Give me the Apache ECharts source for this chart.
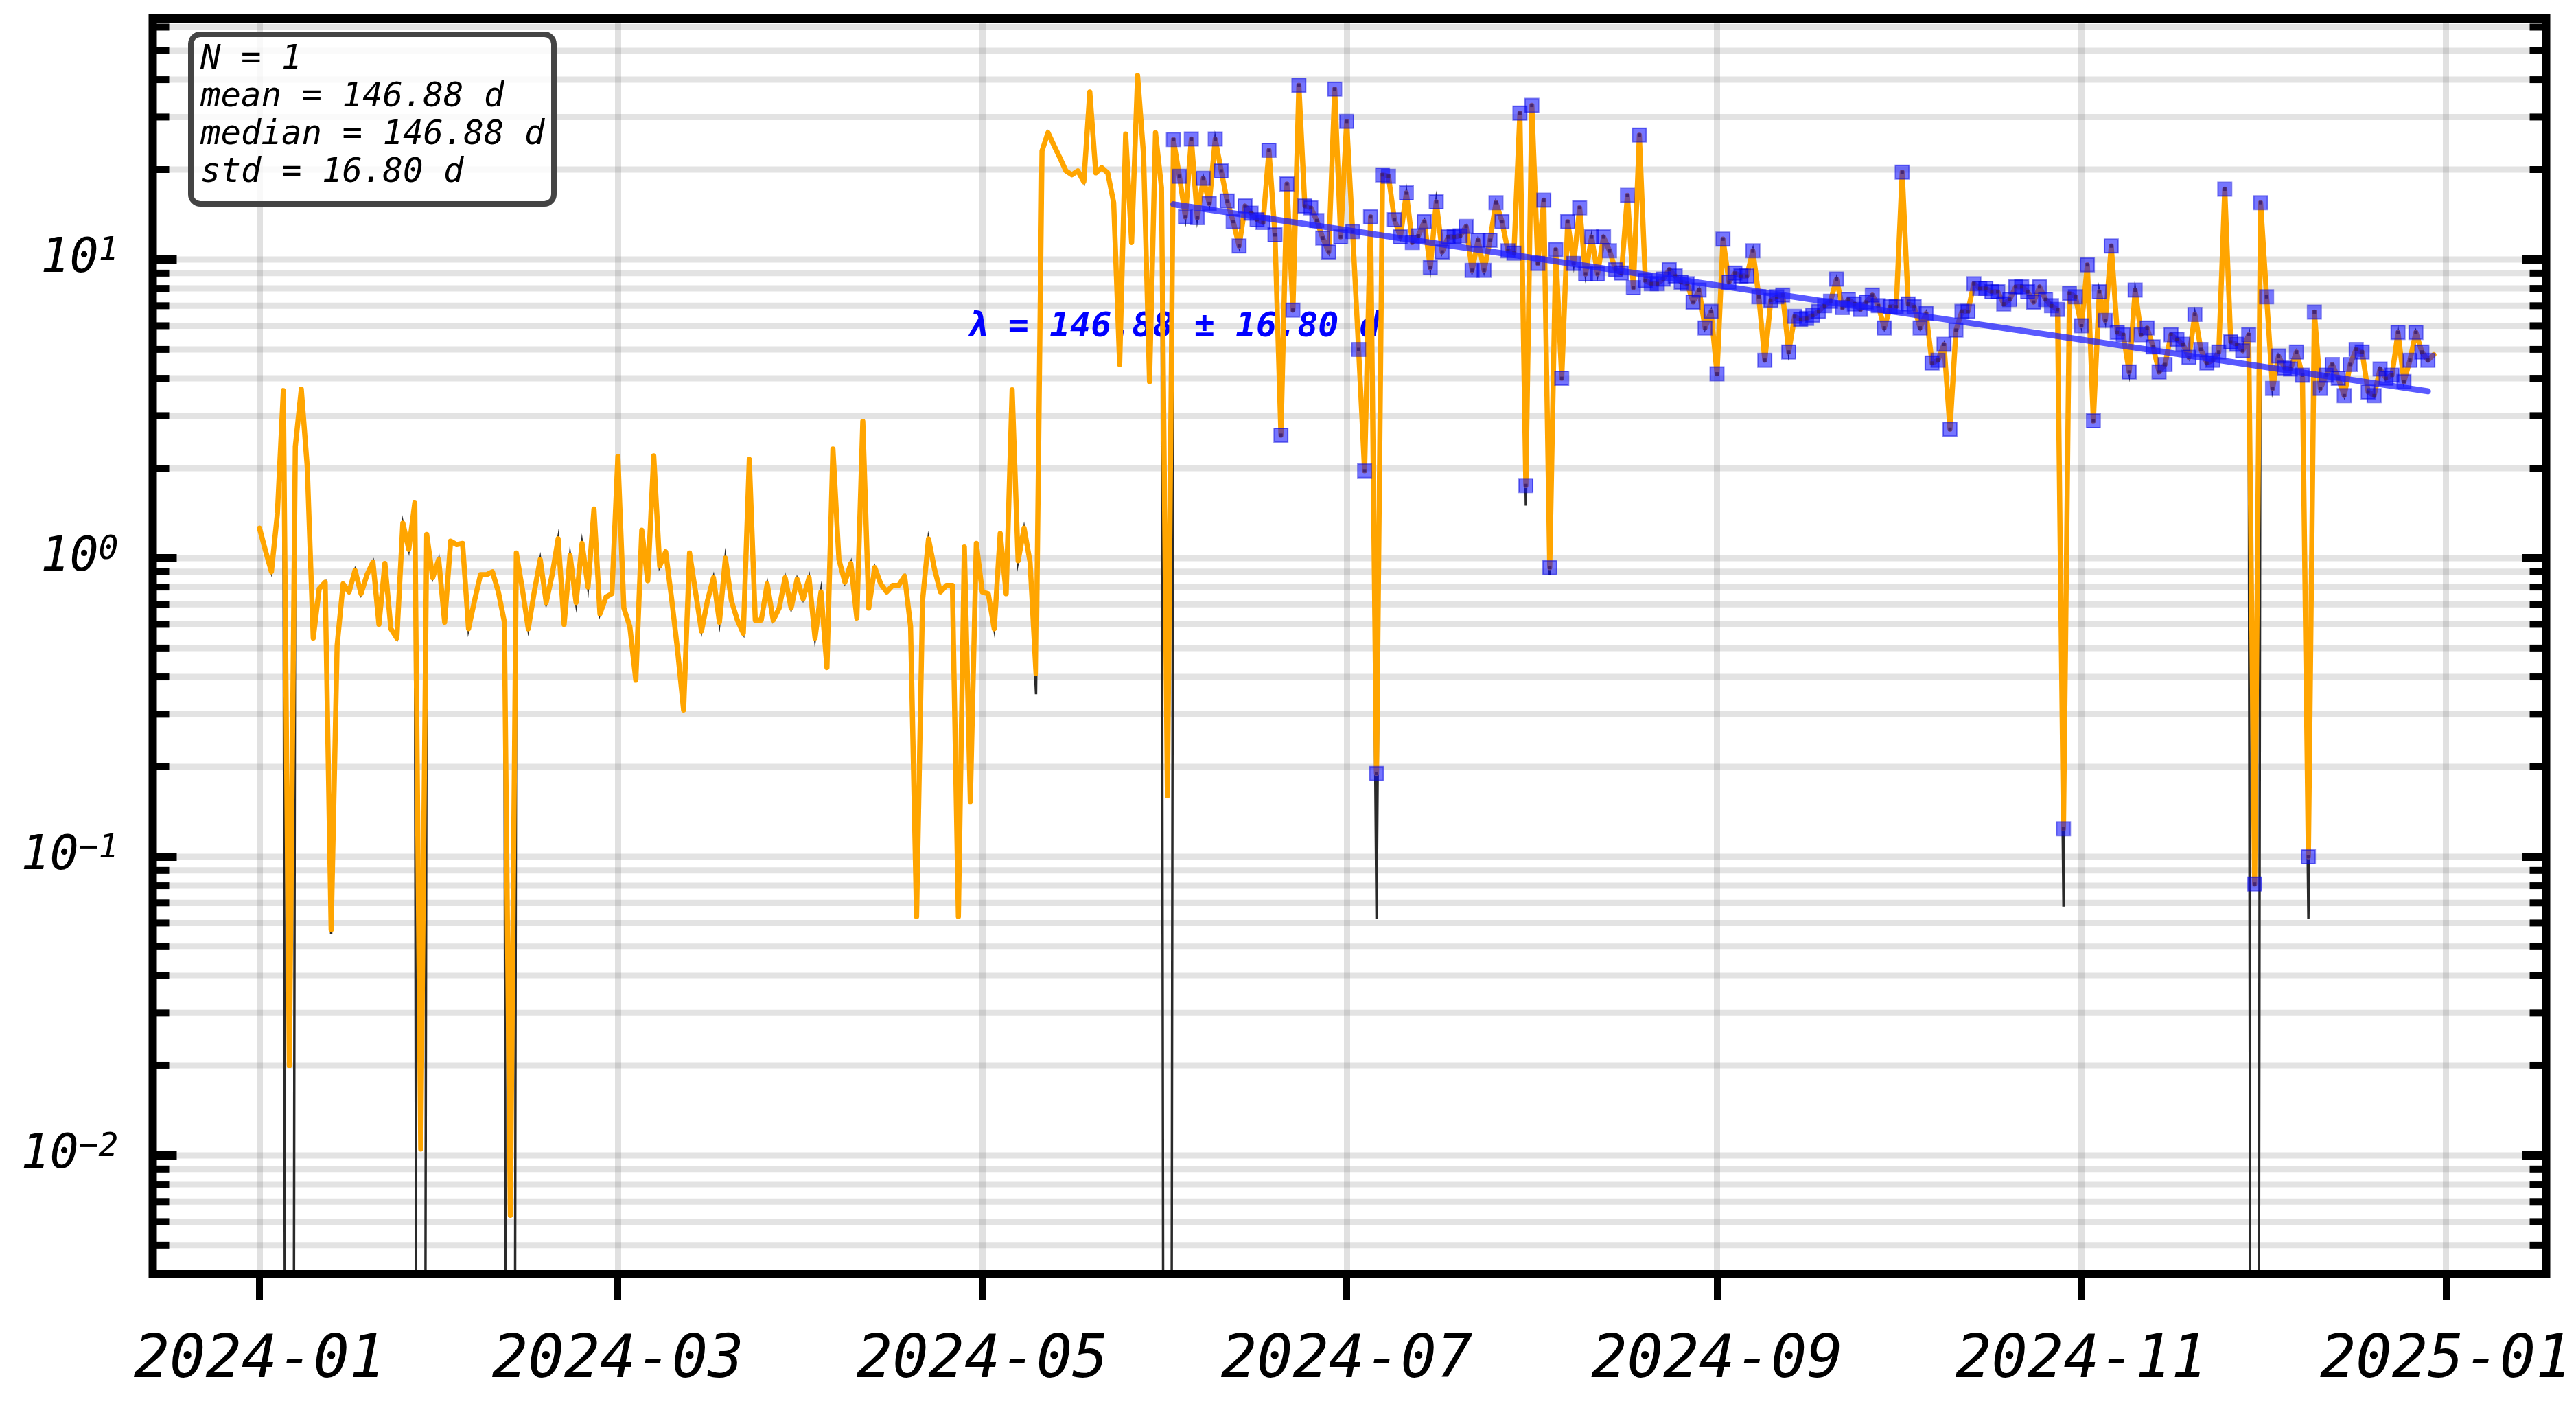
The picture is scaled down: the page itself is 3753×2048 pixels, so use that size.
<!DOCTYPE html>
<html>
<head>
<meta charset="utf-8">
<script src="https://cdn.jsdelivr.net/npm/echarts@6/dist/echarts.min.js"></script>
<style>
html,body{margin:0;padding:0;background:#fff;}
#chart{width:3753px;height:2048px;}
</style>
</head>
<body>
<div id="chart"></div>
<script>
// ---------------- data (daily values) ----------------
const fluxJan = [1.26,1.06,0.90,1.41,3.64,0.02,2.36,3.68,2.02,0.54,0.79,0.83,0.057,0.51,0.82,0.77,0.91,0.76,0.88,0.97,0.60,0.96,0.58,0.54,1.31,1.07,1.53,0.0105,1.20,0.86,0.99];
const fluxFeb = [0.61,1.14,1.11,1.12,0.58,0.72,0.88,0.88,0.90,0.77,0.61,0.0063,1.04,0.79,0.58,0.77,0.99,0.71,0.88,1.16,0.60,1.02,0.71,1.12,0.80,1.46,0.65,0.74,0.76];
const fluxMar = [2.19,0.68,0.59,0.39,1.24,0.84,2.20,0.94,1.05,0.73,0.49,0.31,1.04,0.77,0.57,0.72,0.86,0.61,1.00,0.72,0.62,0.56,2.14,0.62,0.62,0.82,0.62,0.68,0.86,0.68,0.85];
const fluxApr = [0.73,0.86,0.54,0.77,0.43,2.32,0.99,0.83,0.96,0.63,2.87,0.68,0.93,0.82,0.77,0.81,0.81,0.87,0.59,0.063,0.72,1.16,0.92,0.77,0.81,0.81,0.063,1.09,0.153,1.12];
const fluxMay = [0.77,0.76,0.58,1.21,0.76,3.66,0.98,1.26,0.97,0.41,23.1,26.6,24.1,21.9,19.8,19.2,19.8,18.2,36.4,19.5,20.3,19.5,15.5,4.45,26.3,11.4,41.3,22.4,3.9,26.6,17.4];
const fluxJun = [0.16,25.2,19.0,13.9,25.3,13.8,18.7,15.4,25.3,19.8,15.7,13.4,11.1,15.1,14.3,13.6,13.3,23.2,12.1,2.58,17.9,6.77,38.3,15.1,14.9,13.5,11.8,10.6,37.2,11.9];
const fluxJul = [29.0,12.4,5.0,1.96,13.9,0.19,19.2,19.0,13.6,11.9,16.7,11.4,12.0,13.4,9.4,15.6,10.6,11.9,11.9,12.0,12.9,9.2,11.6,9.2,11.6,15.5,13.4,10.7,10.5,30.9,1.75];
const fluxAug = [32.8,9.7,15.8,0.93,10.8,4.0,13.4,9.7,14.9,8.95,11.9,8.95,11.9,10.7,9.25,9.0,16.4,8.05,26.1,8.5,8.3,8.3,8.6,9.25,8.8,8.4,8.3,7.2,7.9,5.9,6.7];
const fluxSep = [4.14,11.7,8.4,9.0,8.8,8.8,10.7,7.5,4.6,7.3,7.5,7.6,4.9,6.45,6.3,6.35,6.5,6.7,7.0,7.25,8.6,6.9,7.35,7.1,6.8,7.2,7.6,7.0,5.9,6.95];
const fluxOct = [6.95,19.6,7.1,6.95,5.9,6.6,4.5,4.6,5.2,2.7,5.8,6.7,6.7,8.3,8.0,8.0,7.8,7.8,7.1,7.35,8.1,8.1,7.8,7.2,8.1,7.35,7.0,6.8,0.124,7.7,7.5];
const fluxNov = [6.0,9.6,2.88,7.8,6.25,11.1,5.7,5.6,4.2,7.9,5.6,5.9,5.1,4.2,4.45,5.6,5.4,5.2,4.7,6.55,5.0,4.5,4.6,4.9,17.2,5.3,5.2,4.95,5.6,0.081];
const fluxDec = [15.5,7.5,3.7,4.75,4.33,4.3,4.9,4.1,0.10,6.67,3.7,4.1,4.45,4.0,3.5,4.45,5.0,4.9,3.6,3.5,4.3,4.0,4.1,5.7,3.9,4.6,5.7,4.9,4.6,4.8];

// underlying dark line: same as orange, except where it drops further (day index, value)
const blackOverrides = [[5,1e-12],[12,0.055],[27,1e-12],[42,1e-12],[130,0.35],[152,1e-12],[187,0.062],[212,1.5],[216,0.88],[302,0.068],[334,1e-12],[343,0.062]];

const startDay = '2024-01-01';
const tickLabels = ['2024-01','2024-03','2024-05','2024-07','2024-09','2024-11','2025-01'];
const fitDates = ['2024-06-02','2024-12-29'];
const fitValues = [15.3, 3.62];
const statsLines = ['N = 1','mean = 146.88 d','median = 146.88 d','std = 16.80 d'];
const lambdaText = 'λ = 146.88 ± 16.80 d';
const lambdaPos = ['2024-06-02', 5.92];
const decades = [0.001, 0.01, 0.1, 1, 10];
const mantissas = [1,2,3,4,5,6,7,8,9];

// ---------------- layout / style ----------------
const W = 3753, H = 2048;
const GRID = {left: 222.5, top: 27, right: 43.5, bottom: 192};
const FONT = 'DejaVu Sans Mono';
const yMin = 0.004, yMax = 64.1;
const DAY = 86400000;

function parseDay(s){ const p = s.split('-').map(Number); return Date.UTC(p[0], p[1]-1, p[2] || 1); }
const t0 = parseDay(startDay);
const xMin = t0 - 17.87*DAY, xMax = t0 + 382.8*DAY;

const flux = [].concat(fluxJan, fluxFeb, fluxMar, fluxApr, fluxMay, fluxJun, fluxJul, fluxAug, fluxSep, fluxOct, fluxNov, fluxDec);
const dates = flux.map((_, i) => t0 + i*DAY);
const orangeData = flux.map((v, i) => [dates[i], v]);
const blackVals = flux.slice();
blackOverrides.forEach(o => { blackVals[o[0]] = o[1]; });
const blackData = blackVals.map((v, i) => [dates[i], v]);
const fStart = parseDay(fitDates[0]), fEnd = parseDay(fitDates[1]);
const markerData = orangeData.filter(p => p[0] >= fStart && p[0] <= fEnd);
const fitData = fitDates.map((d, i) => [parseDay(d), fitValues[i]]);
const tickValues = tickLabels.map(parseDay);

const gridVals = [];
decades.forEach(d => mantissas.forEach(m => {
  const v = +(d*m).toPrecision(3);
  if (v >= yMin && v <= yMax) gridVals.push([xMin, v, m === 1 ? 1 : 0]);
}));

function fmtMonth(val){
  const d = new Date(val);
  return d.getUTCFullYear() + '-' + String(d.getUTCMonth()+1).padStart(2,'0');
}

const chart = echarts.init(document.getElementById('chart'), null, {renderer: 'canvas', width: W, height: H});

const option = {
  animation: false,
  backgroundColor: '#ffffff',
  grid: Object.assign({outerBoundsMode: 'none'}, GRID),
  title: {
    text: statsLines.join('\n'),
    left: 278, top: 50,
    padding: [10, 14, 17, 14],
    backgroundColor: 'rgba(255,255,255,0.8)',
    borderColor: '#444444', borderWidth: 8, borderRadius: 14,
    textStyle: {fontFamily: FONT, fontStyle: 'italic', fontWeight: 'normal', fontSize: 49, lineHeight: 55, color: '#000'},
    z: 50
  },
  xAxis: {
    type: 'value', min: xMin, max: xMax, scale: true,
    axisLine: {show: false},
    axisTick: {show: true, inside: false, length: 37, customValues: tickValues, lineStyle: {color: '#000', width: 10}},
    axisLabel: {
      show: true, margin: 84, customValues: tickValues,
      fontFamily: FONT, fontStyle: 'italic', fontSize: 87, color: '#000',
      formatter: fmtMonth
    },
    splitLine: {show: true, lineStyle: {color: 'rgba(128,128,128,0.24)', width: 9}},
    minorTick: {show: false}
  },
  yAxis: {
    type: 'log', logBase: 10, min: yMin, max: yMax,
    axisLine: {show: false},
    axisTick: {show: false},
    splitLine: {show: false},
    axisLabel: {
      show: true, margin: 50, showMinLabel: false, showMaxLabel: false,
      formatter: function (v) {
        const e = Math.round(Math.log10(v));
        return '{b|10}{s|' + (e < 0 ? '\u2212' + (-e) : e) + '}';
      },
      rich: {
        b: {fontFamily: FONT, fontStyle: 'italic', fontSize: 70, lineHeight: 70, color: '#000', verticalAlign: 'bottom'},
        s: {fontFamily: FONT, fontStyle: 'italic', fontSize: 48, lineHeight: 30, color: '#000', verticalAlign: 'top'}
      }
    }
  },
  graphic: [{
    type: 'rect', z: 100, silent: true,
    shape: {x: GRID.left, y: GRID.top, width: W - GRID.left - GRID.right, height: H - GRID.top - GRID.bottom},
    style: {fill: 'none', stroke: '#000', lineWidth: 12}
  }],
  series: [
    {
      name: 'hgrid', type: 'custom', z: 1, silent: true,
      data: gridVals, encode: {x: 0, y: 1},
      renderItem: function (params, api) {
        const cs = params.coordSys;
        const y = api.coord([api.value(0), api.value(1)])[1];
        return {type: 'line', shape: {x1: cs.x, y1: y, x2: cs.x + cs.width, y2: y},
                style: {stroke: 'rgba(128,128,128,0.22)', lineWidth: 9}};
      }
    },
    {
      name: 'raw', type: 'line', z: 2, data: blackData, symbol: 'none', clip: true,
      lineStyle: {color: '#2a2a2a', width: 3.5, join: 'miter'}
    },
    {
      name: 'lambda', type: 'scatter', z: 3, silent: true,
      data: [[parseDay(lambdaPos[0]), lambdaPos[1]]],
      symbol: 'circle', symbolSize: 1,
      itemStyle: {color: 'rgba(0,0,0,0)', opacity: 1},
      label: {show: true, position: 'inside', formatter: lambdaText, opacity: 1,
              textBorderWidth: 0,
              fontFamily: FONT, fontStyle: 'italic', fontWeight: 'bold', fontSize: 50, color: '#0000ff'}
    },
    {
      name: 'flux', type: 'line', z: 4, data: orangeData, symbol: 'none', clip: true,
      lineStyle: {color: '#FFA500', width: 7.5, join: 'round', cap: 'round'}
    },
    {
      name: 'fitpoints', type: 'scatter', z: 5, data: markerData, symbol: 'rect', symbolSize: 20,
      itemStyle: {color: 'rgba(10,10,255,0.56)', borderColor: 'rgba(0,0,220,0.45)', borderWidth: 2, opacity: 1}
    },
    {
      name: 'fitcentres', type: 'scatter', z: 6, data: markerData, symbol: 'rect', symbolSize: 5,
      itemStyle: {color: 'rgba(60,30,110,0.85)', opacity: 1}
    },
    {
      name: 'fit', type: 'line', z: 7, data: fitData, symbol: 'none',
      lineStyle: {color: 'rgba(25,25,255,0.72)', width: 9, cap: 'round'}
    },
    {
      name: 'yticks', type: 'custom', z: 20, silent: true,
      data: gridVals, encode: {x: 0, y: 1},
      renderItem: function (params, api) {
        const cs = params.coordSys;
        const y = api.coord([api.value(0), api.value(1)])[1];
        const major = api.value(2) === 1;
        const len = major ? 35 : 24, w = major ? 12 : 10;
        return {type: 'group', children: [
          {type: 'line', shape: {x1: cs.x, y1: y, x2: cs.x + len, y2: y}, style: {stroke: '#000', lineWidth: w}},
          {type: 'line', shape: {x1: cs.x + cs.width - len, y1: y, x2: cs.x + cs.width, y2: y}, style: {stroke: '#000', lineWidth: w}}
        ]};
      }
    }
  ]
};
chart.setOption(option);
</script>
</body>
</html>
